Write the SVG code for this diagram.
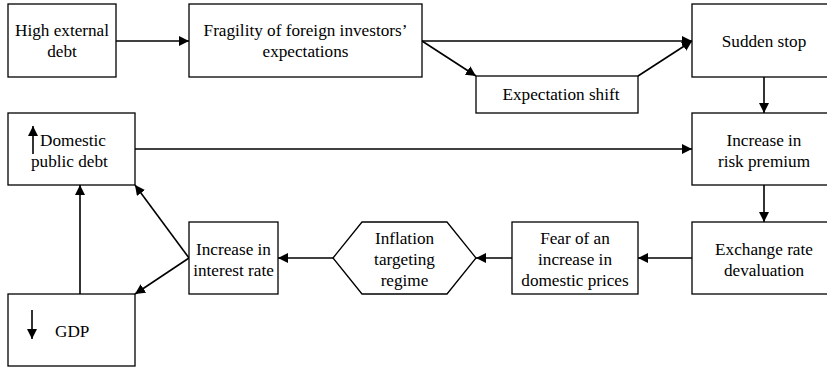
<svg xmlns="http://www.w3.org/2000/svg" width="827" height="367" viewBox="0 0 827 367">
<defs>
<marker id="ah" viewBox="0 0 10 10" refX="10" refY="5" markerWidth="10" markerHeight="10" markerUnits="userSpaceOnUse" orient="auto">
<path d="M0,0 L10,5 L0,10 z" fill="#000"/>
</marker>
<style>
.box{fill:#fff;stroke:#000;stroke-width:1.3}
.t{font-family:"Liberation Serif","Times New Roman",serif;font-size:17.2px;fill:#000;text-anchor:middle}
.c{fill:none;stroke:#000;stroke-width:1.6}
</style>
</defs>
<rect width="827" height="367" fill="#fff"/>
<g id="connectors">
<line class="c" x1="116" y1="41" x2="189" y2="41" marker-end="url(#ah)"/>
<line class="c" x1="422" y1="41" x2="692" y2="41" marker-end="url(#ah)"/>
<line class="c" x1="422" y1="41" x2="476" y2="76" marker-end="url(#ah)"/>
<line class="c" x1="638" y1="76" x2="692" y2="41" marker-end="url(#ah)"/>
<line class="c" x1="764" y1="77" x2="764" y2="113" marker-end="url(#ah)"/>
<line class="c" x1="135" y1="149" x2="692" y2="149" marker-end="url(#ah)"/>
<line class="c" x1="764" y1="185" x2="764" y2="222" marker-end="url(#ah)"/>
<line class="c" x1="692" y1="258" x2="638" y2="258" marker-end="url(#ah)"/>
<line class="c" x1="512" y1="258" x2="476" y2="258" marker-end="url(#ah)"/>
<line class="c" x1="333" y1="258" x2="278" y2="258" marker-end="url(#ah)"/>
<line class="c" x1="189" y1="258" x2="135" y2="185" marker-end="url(#ah)"/>
<line class="c" x1="189" y1="258" x2="135" y2="294" marker-end="url(#ah)"/>
<line class="c" x1="80" y1="294" x2="80" y2="185" marker-end="url(#ah)"/>
</g>
<g id="high-external-debt">
<rect class="box" x="8" y="4" width="108" height="73"/>
<text class="t" x="62" y="36">High external</text>
<text class="t" x="62" y="57">debt</text>
</g>
<g id="fragility">
<rect class="box" x="189" y="4" width="233" height="73"/>
<text class="t" x="305.5" y="36">Fragility of foreign investors’</text>
<text class="t" x="305.5" y="57">expectations</text>
</g>
<g id="expectation-shift">
<rect class="box" x="476" y="76" width="162" height="37"/>
<text class="t" x="561" y="100">Expectation shift</text>
</g>
<g id="sudden-stop">
<rect class="box" x="692" y="4" width="145" height="73"/>
<text class="t" x="764" y="47">Sudden stop</text>
</g>
<g id="risk-premium">
<rect class="box" x="692" y="113" width="145" height="72"/>
<text class="t" x="764" y="146">Increase in</text>
<text class="t" x="764" y="167">risk premium</text>
</g>
<g id="exchange-rate">
<rect class="box" x="692" y="222" width="145" height="72"/>
<text class="t" x="764" y="255">Exchange rate</text>
<text class="t" x="764" y="276">devaluation</text>
</g>
<g id="fear">
<rect class="box" x="512" y="222" width="126" height="72"/>
<text class="t" x="575" y="244">Fear of an</text>
<text class="t" x="575" y="265">increase in</text>
<text class="t" x="575" y="286">domestic prices</text>
</g>
<g id="inflation-targeting">
<polygon class="box" points="333,258 362,222 447,222 476,258 447,294 362,294"/>
<text class="t" x="404.5" y="244">Inflation</text>
<text class="t" x="404.5" y="265">targeting</text>
<text class="t" x="404.5" y="286">regime</text>
</g>
<g id="interest-rate">
<rect class="box" x="189" y="222" width="89" height="72"/>
<text class="t" x="233.5" y="255">Increase in</text>
<text class="t" x="233.5" y="276">interest rate</text>
</g>
<g id="domestic-public-debt">
<rect class="box" x="8" y="113" width="127" height="72"/>
<line class="c" x1="33" y1="154" x2="33" y2="126" marker-end="url(#ah)"/>
<text class="t" x="40" y="146" style="text-anchor:start">Domestic</text>
<text class="t" x="31" y="167" style="text-anchor:start">public debt</text>
</g>
<g id="gdp">
<rect class="box" x="8" y="294" width="127" height="72"/>
<line class="c" x1="32" y1="310" x2="32" y2="339" marker-end="url(#ah)"/>
<text class="t" x="55" y="337" style="text-anchor:start">GDP</text>
</g>
</svg>
